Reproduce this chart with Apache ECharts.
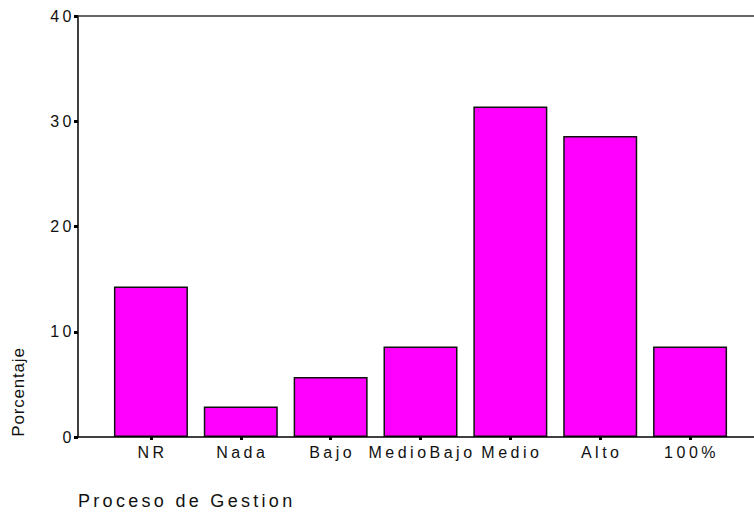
<!doctype html>
<html>
<head>
    <meta charset="utf-8">
    <title>Proceso de Gestion</title>
    <script src="https://cdn.jsdelivr.net/npm/echarts@6/dist/echarts.min.js"></script>
    <style>
        html, body { margin: 0; padding: 0; background: #fff; }
        #chart { width: 754px; height: 512px; }
        /* the original uses wide letter spacing */
        #chart text[style*="16px"] { letter-spacing: 3.5px; }
        #chart text[style*="18px"] { letter-spacing: 3.3px; }
        #chart text[style*="17px"] { letter-spacing: 0.8px; }
    </style>
</head>
<body>
<div id="chart"></div>
<script type="text/javascript">
    var categories = ['NR', 'Nada', 'Bajo', 'MedioBajo', 'Medio', 'Alto', '100%'];
    var porcentaje = [14.3, 2.9, 5.7, 8.6, 31.4, 28.6, 8.6];
    var yMin = 0, yMax = 40, yStep = 10;

    var myChart = echarts.init(document.getElementById('chart'), null, {renderer: 'svg'});
    var font = 'Liberation Sans';

    var option = {
        backgroundColor: '#fff',
        animation: false,
        grid: {left: 106, right: 19, top: 16, bottom: 75},
        xAxis: {
            type: 'category',
            data: categories,
            axisLine: {show: false},
            axisTick: {show: true, alignWithLabel: true, length: 3, lineStyle: {color: '#000', width: 3}},
            axisLabel: {interval: 0, margin: 7, color: '#111', fontSize: 16, fontFamily: font, padding: [0, 0, 0, 3]},
            splitLine: {show: false}
        },
        yAxis: {
            type: 'value',
            min: yMin, max: yMax, interval: yStep,
            offset: 28,
            axisLine: {show: true, lineStyle: {color: '#000', width: 1.5}},
            axisTick: {show: true, length: 4, lineStyle: {color: '#000', width: 3}},
            axisLabel: {
                margin: 3, color: '#111', fontSize: 16, fontFamily: font,
                padding: function () { return [0, 0, 0, 0]; }()
            },
            splitLine: {show: false}
        },
        graphic: [
            {type: 'line', shape: {x1: 78, y1: 437, x2: 754, y2: 437}, style: {stroke: '#000', lineWidth: 1.5}, z: 10},
            {type: 'line', shape: {x1: 78, y1: 16, x2: 754, y2: 16}, style: {stroke: '#333', lineWidth: 1.5}, z: 10},
            {type: 'text', x: 78, y: 501, style: {text: 'Proceso de Gestion', font: '18px Liberation Sans', fill: '#111', textAlign: 'left', textVerticalAlign: 'middle'}},
            {type: 'text', x: 18, y: 392, rotation: Math.PI / 2, style: {text: 'Porcentaje', font: '17px Liberation Sans', fill: '#111', textAlign: 'center', textVerticalAlign: 'middle'}}
        ],
        series: [{
            type: 'bar',
            data: porcentaje,
            barWidth: 74,
            itemStyle: {color: '#ff00ff', borderColor: '#111', borderWidth: 1.5}
        }]
    };

    myChart.setOption(option);
</script>
</body>
</html>
